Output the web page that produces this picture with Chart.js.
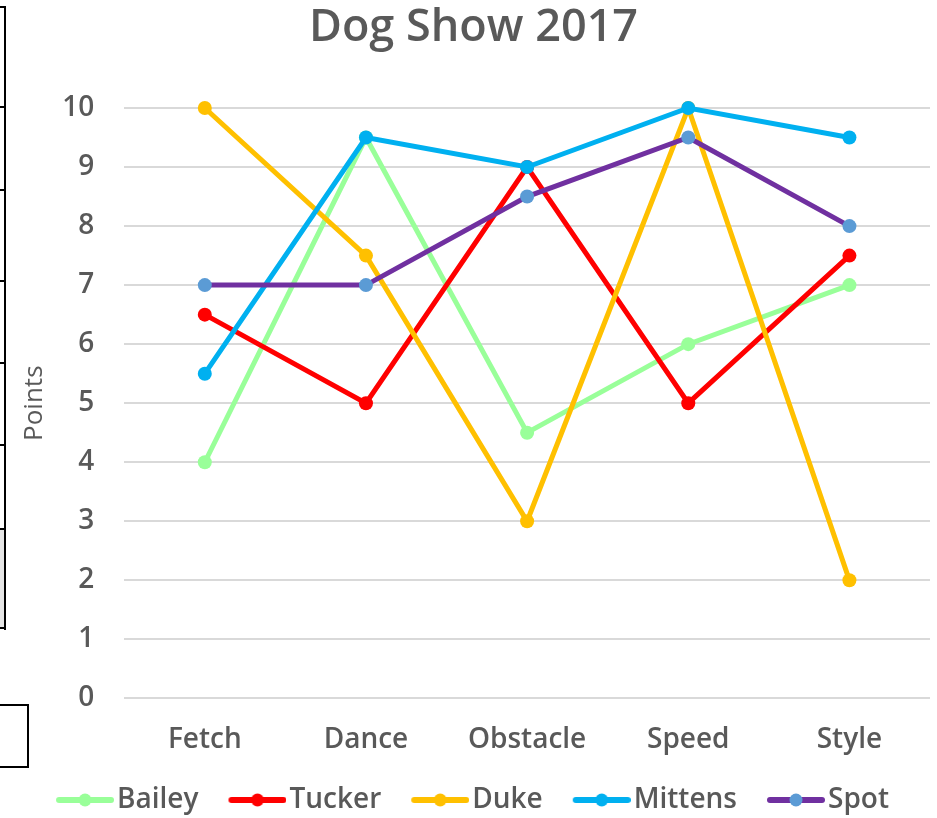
<!DOCTYPE html>
<html>
<head>
<meta charset="utf-8">
<script src="https://cdn.jsdelivr.net/npm/chart.js@4.4.1/dist/chart.umd.min.js"></script>
<style>
  body { margin: 0; background: #fff; }
  #wrap { position: relative; width: 937px; height: 818px; }
  .edge { position: absolute; background: #000; }
</style>
</head>
<body>
<div id="wrap">
  <canvas id="chart-canvas" width="937" height="818"></canvas>
  <!-- bits of the neighbouring table that got cropped into the screenshot -->
  <div class="edge" style="left:0;top:529px;width:5px;height:99px;background:#e4e4e4"></div>
  <div class="edge" style="left:4px;top:6px;width:2px;height:624px"></div>
  <div class="edge" style="left:0;top:6px;width:6px;height:2px"></div>
  <div class="edge" style="left:0;top:106px;width:6px;height:2px"></div>
  <div class="edge" style="left:0;top:189px;width:6px;height:2px"></div>
  <div class="edge" style="left:0;top:280px;width:6px;height:2px"></div>
  <div class="edge" style="left:0;top:362px;width:6px;height:2px"></div>
  <div class="edge" style="left:0;top:444px;width:6px;height:2px"></div>
  <div class="edge" style="left:0;top:528px;width:6px;height:2px"></div>
  <div class="edge" style="left:0;top:627px;width:6px;height:2px"></div>
  <div style="position:absolute;left:-4px;top:704px;width:29px;height:60px;border:2px solid #000"></div>
</div>
<script>
//------------------------ DATA ----------------------------

const events = ["Fetch", "Dance", "Obstacle", "Speed", "Style"];
const bailey = [4, 9.5, 4.5, 6, 7];
const tucker = [6.5, 5, 9, 5, 7.5];
const duke = [10, 7.5, 3, 10, 2];
const mittens = [5.5, 9.5, 9, 10, 9.5];
const spot = [7, 7, 8.5, 9.5, 8];
const yTicks = [0, 1, 2, 3, 4, 5, 6, 7, 8, 9, 10];

const textColor = "#595959";
const mainFont = "'Open Sans', Lato, sans-serif";

// Legend marker: a short thick line with a dot in the middle.
// The canvas has empty space on the left so the marker sits right next to the text.
function legendMarker(lineColor, dotColor) {
  const c = document.createElement("canvas");
  c.width = 95;
  c.height = 16;
  const g = c.getContext("2d");
  g.strokeStyle = lineColor;
  g.lineWidth = 6;
  g.lineCap = "round";
  g.beginPath();
  g.moveTo(40, 8);
  g.lineTo(92, 8);
  g.stroke();
  g.fillStyle = dotColor;
  g.beginPath();
  g.arc(66, 8, 6.5, 0, Math.PI * 2);
  g.fill();
  return c;
}

// order: later series are painted on top, like the original
function series(label, data, lineColor, dotColor, order) {
  return {
    label: label,
    data: data,
    order: order,
    borderColor: lineColor,
    backgroundColor: dotColor,
    pointBackgroundColor: dotColor,
    pointBorderColor: dotColor,
    pointRadius: 7,
    pointBorderWidth: 0,
    borderWidth: 5,
    tension: 0,
    fill: false,
    clip: false,
    legendStyle: legendMarker(lineColor, dotColor),
  };
}

const datasets = [
  series("Bailey", bailey, "#99FF99", "#99FF99", 4),
  series("Tucker", tucker, "#FF0000", "#FF0000", 3),
  series("Duke", duke, "#FFC000", "#FFC000", 2),
  series("Mittens", mittens, "#00B0F0", "#00B0F0", 1),
  series("Spot", spot, "#7030A0", "#5B9BD5", 0),
];

// The marker images leave blank room on the left of each legend item,
// so the centred legend sits a little too far right; nudge it back.
const legendNudge = {
  id: "legendNudge",
  afterLayout(chart) {
    chart.legend.left -= 14;
    chart.legend.right -= 14;
  },
};

// Chart.js reserves the tick padding twice for an axis, but puts the labels
// only one padding away from the plot; the title paddings below make up for it.
const ctx = document.getElementById("chart-canvas").getContext("2d");
const myChart = new Chart(ctx, {
  type: "line",
  data: { labels: events, datasets: datasets },
  plugins: [legendNudge],
  options: {
    responsive: false,
    animation: false,
    layout: { padding: { left: 16, right: 6, top: 0, bottom: -6 } },
    plugins: {
      title: {
        display: true,
        text: "Dog Show 2017",
        color: textColor,
        font: { family: mainFont, size: 45, weight: "600" },
        padding: { top: 1, bottom: 53 },
      },
      legend: {
        position: "bottom",
        labels: {
          usePointStyle: true,
          pointStyleWidth: 73,
          padding: 4,
          color: textColor,
          font: { family: mainFont, size: 28, weight: "600" },
          generateLabels: function (chart) {
            return chart.data.datasets.map((d, i) => ({
              text: d.label,
              pointStyle: d.legendStyle,
              fontColor: textColor,
              hidden: false,
              datasetIndex: i,
              lineWidth: 0,
            }));
          },
        },
      },
      tooltip: { enabled: false },
    },
    scales: {
      x: {
        offset: true,
        grid: { display: false, drawTicks: false },
        border: { display: false },
        ticks: {
          color: textColor,
          padding: 25,
          font: { family: mainFont, size: 28, weight: "600" },
        },
      },
      y: {
        min: 0,
        max: 10,
        afterBuildTicks: function (axis) {
          axis.ticks = yTicks.map((v) => ({ value: v }));
        },
        grid: { color: "#D9D9D9", lineWidth: 2, drawTicks: false },
        border: { display: false },
        ticks: {
          color: textColor,
          padding: 30,
          font: { family: mainFont, size: 28, weight: "600" },
        },
        title: {
          display: true,
          text: "Points",
          color: textColor,
          font: { family: mainFont, size: 26, weight: "normal" },
          padding: { top: 3, bottom: -18 },
        },
      },
    },
  },
});
</script>
</body>
</html>
